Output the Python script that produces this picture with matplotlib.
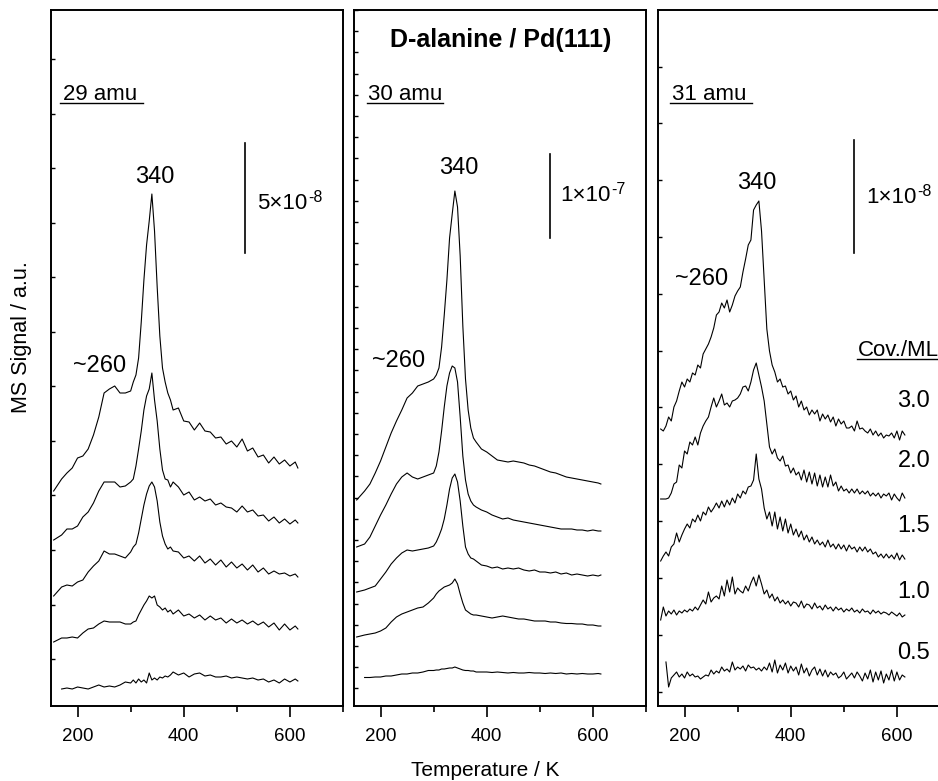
import numpy as np
import matplotlib
matplotlib.use("Agg")
import matplotlib.pyplot as plt
from matplotlib.ticker import MultipleLocator, FixedLocator

# --- Fonts ---
plt.rcParams['font.family'] = ['Liberation Sans', 'DejaVu Sans']

# --- Data (MS signal in a.u., stacked as shown) ---
# temperature grid (K) for the 29 and 30 amu panels
T_FINE = [155, 170, 180, 190, 200, 210, 220, 230, 240, 250, 260, 270, 280, 290, 300,
          305, 310, 315, 320, 325, 330, 335, 340, 345, 350, 355, 360, 365, 370, 375, 380,
          390, 400, 410, 420, 430, 440, 450, 460, 470, 480, 490, 500, 510, 520, 530,
          540, 550, 560, 570, 580, 590, 600, 610, 615]

# temperature grid (K) for the noisy 31 amu panel
T_5K = [155, 160, 165, 170, 175, 180, 185, 190, 195, 200, 205, 210, 215, 220, 225,
        230, 235, 240, 245, 250, 255, 260, 265, 270, 275, 280, 285, 290, 295, 300,
        305, 310, 315, 320, 325, 330, 335, 340, 345, 350, 355, 360, 365, 370, 375,
        380, 385, 390, 395, 400, 405, 410, 415, 420, 425, 430, 435, 440, 445, 450,
        455, 460, 465, 470, 475, 480, 485, 490, 495, 500, 505, 510, 515, 520, 525,
        530, 535, 540, 545, 550, 555, 560, 565, 570, 575, 580, 585, 590, 595, 600,
        605, 610, 615]

nan = np.nan

# 29 amu, coverages 3.0 / 2.0 / 1.5 / 1.0 / 0.5 ML
amu29_30 = [21.5, 22.7, 23.3, 23.8, 24.8, 25.0, 25.7, 27.1, 28.9, 31.3, 31.7, 32.0, 31.3, 31.3, 31.5,
            32.4, 33.1, 34.8, 38.4, 42.6, 46.1, 48.5, 51.2, 47.5, 41.9, 37.0, 33.8, 32.4, 31.3, 30.6, 29.6,
            29.8, 28.5, 28.4, 27.6, 28.3, 27.5, 27.4, 26.8, 26.9, 26.2, 26.5, 25.9, 26.7, 25.5, 25.8,
            24.9, 25.1, 24.3, 24.9, 24.2, 24.6, 24.0, 24.4, 23.8]
amu29_20 = [16.6, 17.1, 17.7, 17.7, 18.0, 18.9, 19.4, 20.3, 21.5, 22.4, 22.4, 22.4, 21.9, 22.0, 22.4,
            22.7, 24.0, 25.7, 27.5, 29.6, 31.0, 31.7, 33.3, 30.6, 28.5, 25.7, 23.6, 22.7, 22.6, 21.9, 22.4,
            21.9, 21.1, 21.4, 20.6, 20.9, 20.5, 20.7, 20.1, 20.3, 19.9, 19.8, 19.4, 20.0, 19.4, 19.6,
            19.0, 19.1, 18.5, 18.9, 18.3, 18.7, 18.2, 18.6, 18.3]
amu29_15 = [11.0, 11.9, 12.1, 12.0, 12.4, 12.6, 13.4, 14.0, 14.5, 15.5, 15.2, 15.2, 15.0, 14.8, 15.4,
            15.9, 16.2, 17.3, 18.7, 20.1, 21.2, 22.0, 22.4, 21.9, 20.5, 18.4, 17.0, 16.2, 15.7, 15.9, 15.5,
            15.4, 14.8, 15.0, 14.5, 15.0, 14.3, 14.7, 14.1, 14.6, 13.9, 14.4, 13.8, 14.2, 13.6, 14.1,
            13.4, 13.8, 13.2, 13.5, 13.2, 13.3, 13.0, 13.2, 12.9]
amu29_10 = [6.4, 6.8, 6.8, 6.9, 6.8, 7.3, 7.7, 7.8, 8.2, 8.5, 8.4, 8.4, 8.4, 8.2, 8.2,
            8.4, 8.5, 9.1, 9.6, 10.1, 10.5, 11.0, 10.8, 11.0, 10.1, 9.9, 9.6, 9.8, 9.4, 9.6, 9.2,
            9.6, 9.0, 9.2, 8.8, 9.1, 8.6, 9.0, 8.6, 8.8, 8.3, 8.7, 8.3, 8.6, 8.2, 8.5,
            8.1, 8.4, 7.9, 8.3, 7.6, 8.2, 7.6, 8.0, 7.7]
amu29_05 = [nan, 1.7, 1.8, 1.7, 1.9, 1.8, 1.7, 1.9, 2.1, 1.9, 2.0, 1.9, 2.1, 2.4, 2.3,
            2.6, 2.3, 2.7, 2.4, 2.6, 2.3, 3.3, 2.6, 2.8, 2.6, 2.9, 2.8, 3.0, 2.9, 3.1, 3.4,
            3.1, 3.3, 2.9, 3.2, 3.3, 3.0, 3.1, 2.9, 2.9, 3.0, 2.8, 2.9, 2.8, 2.7, 2.8,
            2.6, 2.7, 2.4, 2.6, 2.3, 2.7, 2.4, 2.7, 2.5]

# 30 amu
amu30_30 = [20.6, 21.5, 22.2, 23.3, 24.5, 25.9, 27.3, 28.5, 29.6, 30.8, 31.3, 32.0, 32.2, 32.4, 32.7,
            33.1, 33.8, 35.9, 39.1, 42.6, 46.8, 49.2, 51.5, 49.9, 45.0, 38.0, 32.7, 29.6, 27.8, 26.8, 26.4,
            25.7, 25.4, 25.0, 24.6, 24.5, 24.4, 24.5, 24.4, 24.3, 24.1, 24.0, 23.8, 23.6, 23.4, 23.3,
            23.1, 22.9, 22.8, 22.7, 22.6, 22.5, 22.4, 22.3, 22.2]
amu30_20 = [15.9, 16.2, 16.9, 18.0, 19.1, 20.1, 21.2, 22.2, 22.9, 23.3, 22.9, 22.7, 22.9, 23.1, 23.3,
            24.0, 25.4, 27.5, 29.9, 32.0, 33.3, 34.0, 33.8, 32.4, 28.9, 25.0, 22.6, 21.2, 20.5, 20.1, 19.9,
            19.6, 19.4, 19.1, 18.9, 18.7, 18.8, 18.6, 18.5, 18.4, 18.3, 18.2, 18.1, 18.0, 17.9, 17.8,
            17.7, 17.7, 17.7, 17.6, 17.6, 17.5, 17.6, 17.5, 17.5]
amu30_15 = [11.4, 11.6, 11.8, 12.0, 12.7, 13.4, 14.2, 14.8, 15.3, 15.6, 15.5, 15.6, 15.7, 15.8, 16.0,
            16.4, 17.0, 17.7, 18.7, 20.1, 21.7, 22.8, 23.2, 22.4, 20.5, 18.0, 15.9, 15.2, 14.8, 14.7, 14.5,
            14.1, 14.0, 13.8, 13.9, 13.7, 13.8, 13.7, 13.8, 13.6, 13.5, 13.6, 13.4, 13.4, 13.3, 13.4,
            13.2, 13.3, 13.1, 13.2, 13.1, 13.0, 13.1, 13.0, 13.1]
amu30_10 = [6.9, 7.1, 7.2, 7.3, 7.5, 7.8, 8.4, 8.9, 9.2, 9.4, 9.6, 9.8, 9.9, 10.3, 10.8,
            11.2, 11.5, 11.7, 11.9, 12.0, 12.1, 12.3, 12.7, 12.2, 11.2, 10.3, 9.6, 9.4, 9.2, 9.1, 9.1,
            9.0, 8.9, 8.8, 8.9, 9.0, 8.9, 8.8, 8.7, 8.7, 8.6, 8.5, 8.5, 8.5, 8.4, 8.4,
            8.3, 8.25, 8.25, 8.2, 8.2, 8.1, 8.1, 8.0, 8.0]
amu30_05 = [nan, 2.85, 2.85, 2.9, 2.9, 3.0, 3.0, 3.1, 3.2, 3.2, 3.3, 3.3, 3.4, 3.55, 3.55,
            3.6, 3.6, 3.7, 3.7, 3.75, 3.8, 3.8, 3.9, 3.8, 3.7, 3.6, 3.55, 3.55, 3.5, 3.5, 3.4,
            3.4, 3.4, 3.35, 3.4, 3.35, 3.3, 3.35, 3.3, 3.3, 3.35, 3.3, 3.3, 3.25, 3.3, 3.25,
            3.3, 3.2, 3.25, 3.2, 3.25, 3.2, 3.2, 3.25, 3.2]

# 31 amu
amu31_30 = [27.7, 27.5, 28.0, 28.9, 28.5, 29.9, 30.5, 31.5, 32.4, 31.9, 32.7, 32.4, 33.3, 33.1, 34.1,
            33.8, 35.2, 35.7, 36.2, 36.9, 37.8, 39.1, 39.4, 40.3, 39.8, 40.6, 39.4, 40.1, 41.0, 41.5,
            41.9, 43.4, 44.7, 46.1, 46.6, 49.6, 50.1, 50.5, 47.5, 42.6, 37.7, 35.5, 34.1, 33.4, 32.4,
            32.7, 31.9, 32.0, 31.2, 31.5, 30.6, 31.0, 29.9, 30.5, 29.6, 29.9, 29.1, 29.6, 29.2, 29.6,
            28.5, 29.2, 28.7, 29.1, 28.4, 28.9, 28.0, 28.7, 28.2, 28.5, 27.8, 27.8, 28.0, 27.5, 28.5,
            27.7, 27.8, 27.5, 27.3, 27.7, 27.1, 27.5, 27.0, 27.3, 26.8, 27.1, 27.0, 27.3, 26.8, 27.5,
            26.6, 27.5, 27.1]
amu31_20 = [20.7, 20.7, 20.7, 20.8, 21.3, 22.2, 22.4, 24.1, 23.8, 25.5, 25.2, 26.4, 26.1, 26.9, 26.1,
            27.3, 28.0, 28.5, 28.9, 29.9, 30.8, 29.9, 30.5, 31.2, 30.1, 30.3, 29.9, 30.5, 30.6, 30.8,
            31.2, 31.9, 32.0, 31.5, 32.4, 33.6, 34.3, 33.1, 31.9, 30.5, 28.2, 25.9, 25.2, 25.7, 24.8,
            24.5, 25.0, 24.0, 24.1, 23.3, 23.8, 23.1, 23.4, 22.6, 23.6, 22.4, 23.4, 22.2, 23.3, 22.0,
            23.1, 21.9, 22.9, 21.9, 23.1, 22.0, 22.4, 21.5, 22.0, 21.5, 21.7, 21.3, 21.7, 21.3, 21.7,
            21.2, 21.5, 21.2, 21.5, 21.0, 21.3, 21.0, 21.3, 20.8, 21.2, 21.0, 21.3, 20.6, 21.2, 20.8,
            20.5, 21.3, 20.8]
amu31_15 = [14.5, 15.0, 15.4, 15.0, 15.9, 16.2, 17.3, 16.4, 17.1, 17.7, 18.2, 17.8, 18.7, 18.4, 19.1,
            18.5, 19.4, 19.1, 19.9, 19.4, 19.8, 20.3, 19.8, 20.5, 19.9, 20.6, 20.1, 20.8, 20.3, 21.2,
            20.8, 21.5, 21.2, 21.9, 22.0, 22.6, 25.2, 22.7, 21.7, 19.8, 18.7, 19.4, 18.0, 19.4, 17.7,
            18.9, 17.5, 18.7, 17.3, 18.2, 17.1, 17.7, 16.9, 17.5, 16.6, 17.1, 16.4, 16.9, 16.2, 16.6,
            16.1, 16.4, 15.9, 16.6, 15.9, 16.2, 15.7, 16.2, 15.7, 16.1, 15.5, 16.1, 15.7, 15.9, 15.4,
            15.9, 15.5, 15.9, 15.4, 15.7, 15.2, 15.4, 14.9, 15.2, 14.8, 15.2, 14.8, 15.1, 14.7, 15.3,
            14.6, 15.1, 14.7]
amu31_10 = [8.6, 9.9, 9.0, 9.5, 9.2, 9.6, 9.1, 9.5, 9.3, 9.6, 9.4, 9.7, 9.5, 9.9, 9.6,
            10.1, 10.6, 10.2, 11.4, 10.4, 10.8, 11.0, 10.7, 12.0, 11.0, 12.6, 11.4, 12.9, 11.2, 11.8,
            11.5, 11.3, 12.0, 11.5, 12.3, 12.9, 12.0, 13.1, 12.2, 11.2, 11.6, 10.8, 11.2, 10.5, 10.9,
            10.3, 10.6, 10.2, 10.5, 10.0, 10.4, 10.3, 9.9, 10.5, 9.8, 10.2, 10.1, 9.7, 10.3, 9.8,
            10.0, 9.6, 10.1, 9.7, 9.9, 9.5, 9.9, 9.6, 9.8, 9.4, 9.7, 9.5, 9.8, 9.4, 9.6,
            9.3, 9.7, 9.4, 9.5, 9.2, 9.6, 9.3, 9.5, 9.2, 9.4, 9.3, 9.1, 9.4, 9.2, 9.0,
            9.3, 8.9, 9.1]
amu31_05 = [nan, nan, 4.4, 1.9, 2.8, 3.1, 3.4, 2.9, 3.2, 2.8, 3.4, 3.0, 3.2, 2.9, 3.0,
            2.7, 2.9, 3.1, 3.0, 3.6, 3.2, 3.5, 3.3, 3.9, 3.5, 3.7, 3.4, 4.4, 3.6, 3.9,
            3.7, 4.0, 3.5, 4.1, 3.8, 3.9, 3.6, 3.8, 3.5, 3.9, 3.6, 4.3, 3.4, 4.6, 3.3,
            4.1, 3.6, 4.3, 3.3, 4.0, 3.5, 3.9, 3.1, 4.2, 3.3, 3.8, 3.0, 3.6, 3.9, 3.1,
            3.7, 3.0, 3.6, 2.9, 3.4, 3.1, 3.3, 2.8, 3.0, 3.4, 2.7, 3.0, 3.3, 2.8, 3.4,
            3.0, 2.5, 3.3, 2.7, 3.6, 2.4, 3.4, 2.6, 3.5, 2.3, 3.2, 2.6, 3.6, 2.5, 3.4,
            2.6, 3.1, 2.9]

MASSES = ['29 amu', '30 amu', '31 amu']
SCALE_BASE = ['5\u00d710', '1\u00d710', '1\u00d710']
SCALE_EXP = ['-8', '-7', '-8']
COVERAGES = ['3.0', '2.0', '1.5', '1.0', '0.5']
PEAK_LABEL = '340'
SHOULDER_LABEL = '~260'

panels = [
    (T_FINE, [amu29_30, amu29_20, amu29_15, amu29_10, amu29_05]),
    (T_FINE, [amu30_30, amu30_20, amu30_15, amu30_10, amu30_05]),
    (T_5K, [amu31_30, amu31_20, amu31_15, amu31_10, amu31_05]),
]

# --- Layout (pixel geometry of the original figure) ---
W, H = 938, 781
fig = plt.figure(figsize=(W / 100, H / 100), dpi=100)
lefts = [51, 354, 658]
bottom, height, width = 75, 696, 292

# per panel: y tick spacing/offset, annotation positions (data coords)
ytick_cfg = [(5.45, 4.7), (2.12, 1.76), (5.68, 1.45)]
mass_pos = [(172.6, 60.6, 167, 324), (176.4, 60.6, 174.5, 318), (176.3, 60.6, 172.5, 326.7)]
peak_pos = [(346, 52.3), (346.8, 53.2), (335.6, 51.7)]
shoulder_pos = [(191.5, 33.4), (183.4, 33.9), (182, 42.1)]
bar_pos = [(516, 45.3, 56.3), (519, 46.8, 55.2), (520, 45.3, 56.6)]
bar_label_pos = [(538.7, 49.7), (538.7, 50.5), (542, 50.3)]
cov_label_y = [29.9, 23.9, 17.4, 10.8, 4.7]

LABEL_FS = 17
for i, (temps, traces) in enumerate(panels):
    ax = fig.add_axes([lefts[i] / W, bottom / H, width / W, height / H])
    for trace in traces:
        ax.plot(temps, trace, color='black', lw=0.8)

    ax.set_xlim(150, 700)
    ax.set_ylim(0, 69.6)
    ax.xaxis.set_major_locator(FixedLocator([200, 400, 600]))
    ax.xaxis.set_minor_locator(FixedLocator([300, 500, 700]))
    base, off = ytick_cfg[i]
    ax.yaxis.set_major_locator(MultipleLocator(base, offset=off))
    ax.tick_params(axis='x', which='major', direction='out', length=8, width=1.2,
                   labelsize=13.5, pad=8)
    ax.tick_params(axis='x', which='minor', direction='out', length=4, width=1.2)
    ax.tick_params(axis='y', direction='in', length=3, width=1.0, labelleft=False)
    for sp in ax.spines.values():
        sp.set_linewidth(1.4)

    # mass label with underline
    mx, my, u0, u1 = mass_pos[i]
    ax.text(mx, my, MASSES[i], fontsize=16, ha='left', va='baseline')
    ax.plot([u0, u1], [my - 0.35, my - 0.35], color='black', lw=1.0)

    # peak annotations
    ax.text(peak_pos[i][0], peak_pos[i][1], PEAK_LABEL, fontsize=LABEL_FS,
            ha='center', va='baseline')
    ax.text(shoulder_pos[i][0], shoulder_pos[i][1], SHOULDER_LABEL, fontsize=LABEL_FS,
            ha='left', va='baseline')

    # intensity scale bar, exponent placed right after the base text
    bx, by0, by1 = bar_pos[i]
    ax.plot([bx, bx], [by0, by1], color='black', lw=1.2)
    base_txt = ax.text(bar_label_pos[i][0], bar_label_pos[i][1], SCALE_BASE[i],
                       fontsize=16, ha='left', va='baseline')
    ax.annotate(SCALE_EXP[i], xy=(1.0, 0.58), xycoords=base_txt,
                xytext=(0.5, 0), textcoords='offset points',
                fontsize=11.5, ha='left', va='baseline')

    if i == 1:
        ax.text(425.5, 66.6, 'D-alanine / Pd(111)', fontsize=18, fontweight='bold',
                ha='center', va='center')
    if i == 2:
        ax.text(526, 35.0, 'Cov./ML', fontsize=16, ha='left', va='baseline')
        ax.plot([525, 700], [34.7, 34.7], color='black', lw=1.0, clip_on=False)
        for lab, y in zip(COVERAGES, cov_label_y):
            ax.text(601, y, lab, fontsize=LABEL_FS, ha='left', va='baseline')

fig.text(22 / W, 1 - 337 / H, 'MS Signal / a.u.', rotation=90, fontsize=15.5,
         ha='center', va='center')
fig.text(485 / W, 1 - 770 / H, 'Temperature / K', fontsize=15, ha='center', va='center')

fig.savefig('out.png', dpi=100)
